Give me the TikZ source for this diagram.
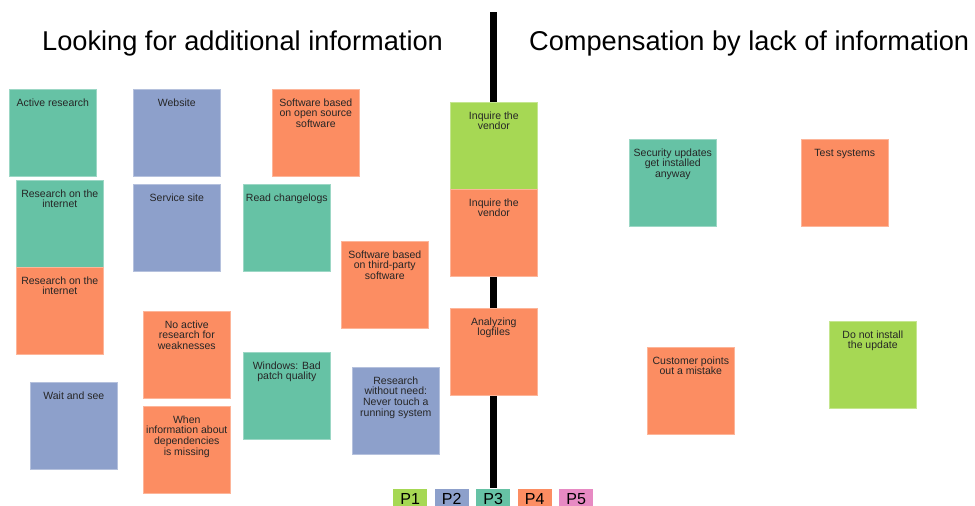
\documentclass[tikz,border=0pt]{standalone}
\usepackage{fontspec}
\setmainfont{Liberation Sans}
\definecolor{pone}{HTML}{A6D854}
\definecolor{ptwo}{HTML}{8DA0CB}
\definecolor{pthree}{HTML}{66C2A5}
\definecolor{pfour}{HTML}{FC8D62}
\definecolor{pfive}{HTML}{E78AC3}
\tikzset{
  notebox/.style={anchor=north west, minimum width=87pt, minimum height=87pt,
    inner sep=0pt, fill=#1, draw=#1!65!white, line width=0.6pt},
  notetext/.style={anchor=north, align=center, font=\fontsize{10.5}{10.9}\selectfont,
    text=black!85, inner sep=0pt},
  title/.style={anchor=base west, inner sep=0pt, font=\fontsize{27.2}{30}\selectfont},
  legbox/.style={anchor=north west, minimum width=34pt, minimum height=24pt,
    inner sep=0pt, fill=#1},
  legtext/.style={anchor=base, inner sep=0pt, font=\fontsize{16}{18}\selectfont},
  divider/.style={fill=black}
}
\newcommand\stickynote[5]{%
  \node[notebox=#4] (#1) at (#2,#3) {};
  \node[notetext] (#1t) at ([yshift=-7.8pt]#1.north) {\rule{0pt}{9pt}#5};}
\newcommand\legendbox[4]{%
  \node[legbox=#3] (#1) at (#2,489) {};
  \node[legtext] (#1t) at ([yshift=-15pt]#1.north) {#4};}
\begin{document}
\begin{tikzpicture}[x=1pt,y=-1pt]
\useasboundingbox (0,0) rectangle (975,506);
\fill[white] (0,0) rectangle (975,506);
% titles
\node[title] (tleft) at (42,50) {Looking for additional information};
\node[title] (tright) at (529,50) {Compensation by lack of information};
% divider bar
\fill[divider] (490,12) rectangle (497,488);
% left side notes
\stickynote{a}{9}{89}{pthree}{Active research}
\stickynote{b}{133}{89}{ptwo}{Website}
\stickynote{c}{272}{89}{pfour}{Software based\\on open source\\software}
\stickynote{d}{16}{180}{pthree}{Research on the\\internet}
\stickynote{e}{16}{267}{pfour}{Research on the\\internet}
\stickynote{f}{133}{184}{ptwo}{Service site}
\stickynote{g}{243}{184}{pthree}{Read changelogs}
\stickynote{h}{341}{241}{pfour}{Software based\\on third-party\\software}
\stickynote{i}{143}{311}{pfour}{No active\\research for\\weaknesses}
\stickynote{j}{143}{406}{pfour}{When\\information about\\dependencies\\is missing}
\stickynote{k}{243}{352}{pthree}{Windows: Bad\\patch quality}
\stickynote{l}{352}{367}{ptwo}{Research\\without need:\\Never touch a\\running system}
\stickynote{m}{30}{382}{ptwo}{Wait and see}
% middle notes
\stickynote{n}{450}{102}{pone}{Inquire the\\vendor}
\stickynote{o}{450}{189}{pfour}{Inquire the\\vendor}
\stickynote{p}{450}{308}{pfour}{Analyzing\\logfiles}
% right side notes
\stickynote{q}{629}{139}{pthree}{Security updates\\get installed\\anyway}
\stickynote{r}{801}{139}{pfour}{Test systems}
\stickynote{s}{647}{347}{pfour}{Customer points\\out a mistake}
\stickynote{t}{829}{321}{pone}{Do not install\\the update}
% legend
\legendbox{l1}{393}{pone}{P1}
\legendbox{l2}{434.5}{ptwo}{P2}
\legendbox{l3}{476}{pthree}{P3}
\legendbox{l4}{517.5}{pfour}{P4}
\legendbox{l5}{559}{pfive}{P5}
\end{tikzpicture}
\end{document}
